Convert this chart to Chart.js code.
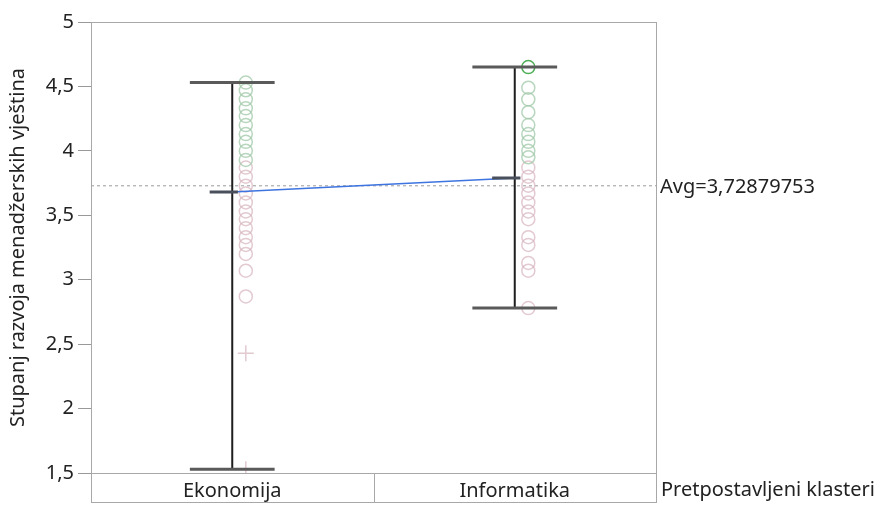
<!DOCTYPE html>
<html>
<head>
<meta charset="utf-8">
<script src="https://cdn.jsdelivr.net/npm/chart.js@4"></script>
<style>
  html, body { margin: 0; padding: 0; background: #fff; }
  #wrap { width: 886px; height: 505px; position: relative; }
</style>
</head>
<body>
<div id="wrap"><canvas id="chart"></canvas></div>
<script>
"use strict";

const categories = ["Ekonomija", "Informatika"];
const yTicks = [1.5, 2, 2.5, 3, 3.5, 4, 4.5, 5];

// individual responses, split by marker colour
const ekonomijaGreen = [4.53, 4.47, 4.4, 4.33, 4.27, 4.2, 4.13, 4.07, 4.0, 3.93];
const ekonomijaPink = [3.87, 3.8, 3.73, 3.67, 3.6, 3.53, 3.47, 3.4, 3.33, 3.27, 3.2, 3.07, 2.87];
const ekonomijaCross = [2.43, 1.53];
const informatikaTop = [4.65];
const informatikaGreen = [4.49, 4.4, 4.3, 4.2, 4.13, 4.07, 4.0, 3.95];
const informatikaPink = [3.87, 3.8, 3.73, 3.67, 3.6, 3.53, 3.47, 3.33, 3.27, 3.13, 3.07, 2.78];

const whiskerLow = [1.53, 2.78];
const whiskerHigh = [4.53, 4.65];
const means = [3.68, 3.79];
const overallAvg = 3.72879753;

const JITTER = 0.048;
const CAP = 0.15;
const FONT = "'Noto Sans'";

function pts(values, catIndex) {
  return values.map((v) => ({ x: catIndex + 0.5 + JITTER, y: v }));
}

const gap = (c) => ({ x: c, y: null });

const whiskerLines = categories.flatMap((c, i) => [
  { x: i + 0.5, y: whiskerLow[i] },
  { x: i + 0.5, y: whiskerHigh[i] },
  gap(i + 0.5),
]);

const capLines = categories.flatMap((c, i) => [
  { x: i + 0.5 - CAP, y: whiskerHigh[i] },
  { x: i + 0.5 + CAP, y: whiskerHigh[i] },
  gap(i + 0.5),
  { x: i + 0.5 - CAP, y: whiskerLow[i] },
  { x: i + 0.5 + CAP, y: whiskerLow[i] },
  gap(i + 0.5),
]);

const meanTicks = categories.flatMap((c, i) => [
  { x: i + 0.5 - 0.08, y: means[i] },
  { x: i + 0.5 + 0.02, y: means[i] },
  gap(i + 0.5),
]);

const meanLine = categories.map((c, i) => ({ x: i + 0.5, y: means[i] }));

const pink = "rgba(214, 180, 188, 0.7)";
const green = "rgba(160, 200, 168, 0.75)";

const framePlugin = {
  id: "frame",
  afterDraw(chart) {
    const { ctx, chartArea } = chart;
    const { left, right, top, bottom } = chartArea;
    ctx.save();
    ctx.strokeStyle = "#a8a8a8";
    ctx.lineWidth = 1;
    ctx.strokeRect(left + 0.5, top + 0.5, right - left, bottom - top);
    // category band under the plot
    ctx.strokeRect(left + 0.5, bottom + 0.5, right - left, 29);
    const mid = Math.round((left + right) / 2) + 0.5;
    ctx.beginPath();
    ctx.moveTo(mid, bottom);
    ctx.lineTo(mid, bottom + 29);
    ctx.stroke();

    ctx.fillStyle = "#222";
    ctx.font = "20px " + FONT;
    ctx.textBaseline = "middle";
    ctx.textAlign = "left";
    const yAvg = chart.scales.y.getPixelForValue(overallAvg);
    ctx.fillText("Avg=" + overallAvg.toString().replace(".", ","), right + 4, yAvg + 1);
    ctx.fillText("Pretpostavljeni klasteri", right + 5, bottom + 17);
    ctx.restore();
  },
};

const circle = (data, color, z) => ({
  type: "scatter",
  data: data,
  pointStyle: "circle",
  pointRadius: 6.5,
  pointBorderWidth: 1.5,
  pointBorderColor: color,
  pointBackgroundColor: "rgba(0,0,0,0)",
  order: z,
});

new Chart(document.getElementById("chart"), {
  type: "scatter",
  data: {
    datasets: [
      {
        type: "line",
        data: [{ x: 0, y: overallAvg }, { x: 2, y: overallAvg }],
        borderColor: "#9a9a9a",
        borderWidth: 1,
        borderDash: [3, 3],
        pointRadius: 0,
        order: 10,
      },
      circle(pts(ekonomijaGreen, 0), green, 8),
      circle(pts(ekonomijaPink, 0), pink, 8),
      {
        type: "scatter",
        data: pts(ekonomijaCross, 0),
        pointStyle: "cross",
        pointRadius: 8,
        pointBorderWidth: 1.5,
        pointBorderColor: pink,
        order: 8,
      },
      circle(pts(informatikaGreen, 1), green, 8),
      circle(pts(informatikaPink, 1), pink, 8),
      circle(pts(informatikaTop, 1), "#4fae56", 7),
      {
        type: "line",
        data: meanLine,
        borderColor: "#3d74e0",
        borderWidth: 1.5,
        pointRadius: 0,
        order: 6,
      },
      {
        type: "line",
        data: whiskerLines,
        borderColor: "#1e1e1e",
        borderWidth: 2,
        pointRadius: 0,
        spanGaps: false,
        order: 5,
      },
      {
        type: "line",
        data: capLines,
        borderColor: "#5a5a5a",
        borderWidth: 3,
        pointRadius: 0,
        spanGaps: false,
        order: 4,
      },
      {
        type: "line",
        data: meanTicks,
        borderColor: "#4a4f5c",
        borderWidth: 3,
        pointRadius: 0,
        spanGaps: false,
        order: 3,
      },
    ],
  },
  options: {
    responsive: true,
    maintainAspectRatio: false,
    animation: false,
    layout: { padding: { top: 22, right: 230, bottom: 0, left: 0 } },
    plugins: {
      legend: { display: false },
      tooltip: { enabled: false },
    },
    scales: {
      x: {
        type: "linear",
        min: 0,
        max: categories.length,
        grid: { display: false, drawTicks: false },
        border: { display: false },
        afterBuildTicks: (scale) => {
          scale.ticks = categories.map((c, i) => ({ value: i + 0.5 }));
        },
        afterFit: (scale) => {
          scale.height = 32;
        },
        ticks: {
          padding: 6,
          color: "#222",
          font: { family: FONT, size: 20 },
          callback: (v, i) => categories[i],
        },
      },
      y: {
        min: yTicks[0],
        max: yTicks[yTicks.length - 1],
        afterBuildTicks: (scale) => {
          scale.ticks = yTicks.map((v) => ({ value: v }));
        },
        afterFit: (scale) => {
          scale.width = 91;
        },
        grid: {
          drawOnChartArea: false,
          tickLength: 13,
          tickColor: "#999",
        },
        border: { display: false },
        title: {
          display: true,
          text: "Stupanj razvoja menadžerskih vještina",
          color: "#222",
          font: { family: FONT, size: 20 },
          padding: { top: 6, bottom: 0 },
        },
        ticks: {
          padding: 4,
          color: "#222",
          font: { family: FONT, size: 20 },
          callback: (v) => String(v).replace(".", ","),
        },
      },
    },
  },
  plugins: [framePlugin],
});
</script>
</body>
</html>
